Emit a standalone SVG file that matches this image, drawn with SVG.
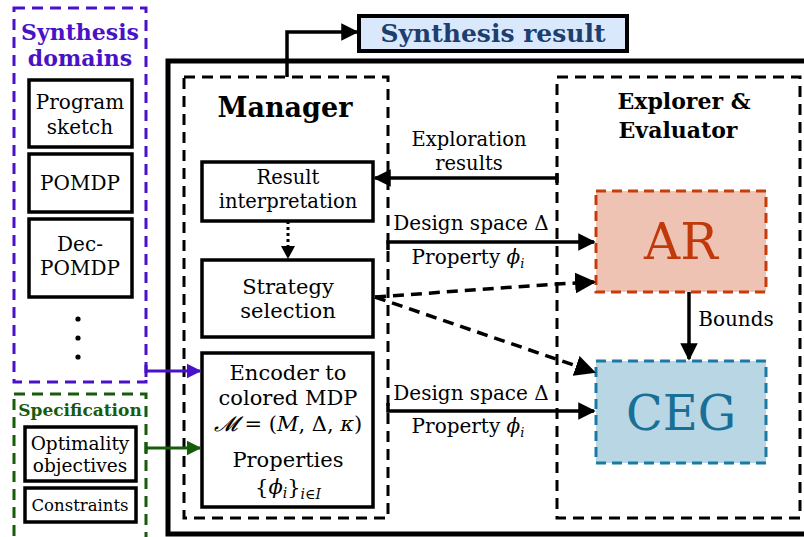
<svg xmlns="http://www.w3.org/2000/svg" width="804" height="537" viewBox="0 0 804 537" font-family="'DejaVu Serif', 'Liberation Serif', serif">
<defs>
<style>
text{font-family:'DejaVu Serif','Liberation Serif','Times New Roman',serif;fill:#000;text-anchor:middle}
.b{font-weight:bold}
.box{fill:#fff;stroke:#000;stroke-width:3.5}
.dash{fill:none;stroke:#000;stroke-width:3;stroke-dasharray:11 7}
.conn{fill:none;stroke:#000;stroke-width:3.5}
</style>
<marker id="ah" viewBox="0 0 10 10" refX="9" refY="5" markerWidth="5" markerHeight="5" markerUnits="strokeWidth" orient="auto"><path d="M0,0 L10,5 L0,10 z" fill="#000"/></marker>
<marker id="ahs" viewBox="0 0 10 10" refX="9" refY="5" markerWidth="6" markerHeight="6" markerUnits="strokeWidth" orient="auto"><path d="M0,0 L10,5 L0,10 z" fill="#000"/></marker>
<marker id="ahp" viewBox="0 0 10 10" refX="9" refY="5" markerWidth="5" markerHeight="5" markerUnits="strokeWidth" orient="auto"><path d="M0,0 L10,5 L0,10 z" fill="#4a12c8"/></marker>
<marker id="ahg" viewBox="0 0 10 10" refX="9" refY="5" markerWidth="5" markerHeight="5" markerUnits="strokeWidth" orient="auto"><path d="M0,0 L10,5 L0,10 z" fill="#175c0b"/></marker>
</defs>

<!-- outer frame -->
<rect x="168" y="61" width="660" height="473" fill="none" stroke="#000" stroke-width="5"/>

<g id="synthesis-domains">
<rect x="14" y="8" width="132" height="374" fill="none" stroke="#4a12c8" stroke-width="3" stroke-dasharray="11 7"/>
<text x="80" y="40" class="b" font-size="22" style="fill:#4a12c8">Synthesis</text>
<text x="80" y="66" class="b" font-size="22" style="fill:#4a12c8">domains</text>
</g>
<g id="program-sketch">
<rect x="29" y="80" width="103" height="67" class="box"/>
<text x="80" y="109" font-size="20">Program</text>
<text x="80" y="134" font-size="20">sketch</text>
</g>
<g id="pomdp">
<rect x="29" y="154" width="103" height="58" class="box"/>
<text x="80" y="190" font-size="20">POMDP</text>
</g>
<g id="dec-pomdp">
<rect x="29" y="219" width="103" height="78" class="box"/>
<text x="80" y="251" font-size="20">Dec-</text>
<text x="80" y="275" font-size="20">POMDP</text>
</g>
<g id="dots">
<circle cx="78" cy="319" r="2.6" fill="#000"/>
<circle cx="78" cy="338" r="2.6" fill="#000"/>
<circle cx="78" cy="357" r="2.6" fill="#000"/>
</g>

<g id="specification">
<rect x="14" y="394" width="132" height="146" fill="none" stroke="#175c0b" stroke-width="3" stroke-dasharray="11 7"/>
<text x="80" y="416" class="b" font-size="17" style="fill:#175c0b">Specification</text>
</g>
<g id="optimality">
<rect x="25" y="427" width="111" height="54" class="box"/>
<text x="80" y="450" font-size="18.5">Optimality</text>
<text x="80" y="472" font-size="18.5">objectives</text>
</g>
<g id="constraints">
<rect x="25" y="488" width="111" height="34" class="box"/>
<text x="80" y="511" font-size="16.5">Constraints</text>
</g>

<g id="manager">
<rect x="184" y="77" width="204" height="441" class="dash"/>
<text x="285" y="117" class="b" font-size="27">Manager</text>
</g>
<g id="result-interpretation">
<rect x="202" y="162" width="171" height="59" class="box"/>
<text x="288" y="184" font-size="19.5">Result</text>
<text x="288" y="208" font-size="19.5">interpretation</text>
</g>
<g id="strategy-selection">
<rect x="202" y="260" width="171" height="77" class="box"/>
<text x="288" y="294" font-size="21">Strategy</text>
<text x="288" y="318" font-size="21">selection</text>
</g>
<g id="encoder">
<rect x="202" y="353" width="171" height="154" class="box"/>
<text x="288" y="380" font-size="21">Encoder to</text>
<text x="288" y="405" font-size="21">colored MDP</text>
<text x="288" y="431" font-size="21"><tspan font-style="italic">𝓜</tspan> = (<tspan font-style="italic">M</tspan>, Δ, <tspan font-style="italic">κ</tspan>)</text>
<text x="288" y="467" font-size="21">Properties</text>
<text x="288" y="494" font-size="21">{<tspan font-style="italic">ϕ</tspan><tspan font-size="14" font-style="italic" dy="4">i</tspan><tspan dy="-4">}</tspan><tspan font-size="14" font-style="italic" dy="5">i</tspan><tspan font-size="14">∈</tspan><tspan font-size="14" font-style="italic">I</tspan></text>
</g>

<g id="explorer">
<rect x="557" y="77" width="243" height="441" class="dash"/>
<text x="684" y="109" class="b" font-size="22">Explorer &amp;</text>
<text x="678" y="138" class="b" font-size="22">Evaluator</text>
</g>
<g id="ar">
<rect x="596" y="191" width="170" height="101" fill="#efc3b3" stroke="#c83c0a" stroke-width="3" stroke-dasharray="10 6"/>
<text x="681" y="259" font-size="50" style="fill:#c0390b">AR</text>
</g>
<g id="ceg">
<rect x="596" y="361" width="170" height="102" fill="#b8d6e4" stroke="#1a7aa0" stroke-width="3" stroke-dasharray="10 6"/>
<text x="681" y="430" font-size="48" style="fill:#1a6f96">CEG</text>
</g>

<g id="synthesis-result">
<rect x="359" y="16" width="268" height="35" fill="#dae8fc" stroke="#000" stroke-width="4"/>
<text x="493" y="42" class="b" font-size="25" style="fill:#1c3f70">Synthesis result</text>
</g>

<g id="connectors">
<path d="M287,77 V32 H357" class="conn" stroke-width="5" marker-end="url(#ah)"/>
<path d="M146,371 H200" fill="none" stroke="#4a12c8" stroke-width="3" marker-end="url(#ahp)"/>
<path d="M146,365 V377" fill="none" stroke="#4a12c8" stroke-width="3"/>
<path d="M146,448 H200" fill="none" stroke="#175c0b" stroke-width="3" marker-end="url(#ahg)"/>
<path d="M146,442 V454" fill="none" stroke="#175c0b" stroke-width="3"/>
<path d="M557,178 H375" class="conn" marker-end="url(#ah)"/>
<path d="M557,173 V183" class="conn" stroke-width="3"/>
<text x="469" y="146" font-size="19.5">Exploration</text>
<text x="469" y="170" font-size="19.5">results</text>
<path d="M288,221 V257" fill="none" stroke="#000" stroke-width="3" stroke-dasharray="3 3"/>
<path d="M281,246 L288,259 L295,246 z" fill="#000"/>
<path d="M388,250 V242 H594" class="conn" stroke-width="3" marker-end="url(#ah)"/>
<text x="471" y="230" font-size="20">Design space Δ</text>
<text x="468" y="264" font-size="20">Property <tspan font-style="italic">ϕ</tspan><tspan font-style="italic" font-size="13" dy="4">i</tspan></text>
<path d="M375,297 L557,284 L594,282" class="conn" stroke-width="3" stroke-dasharray="11 7" marker-end="url(#ahs)"/>
<path d="M375,297 L594,372" class="conn" stroke-width="3" stroke-dasharray="11 7" marker-end="url(#ahs)"/>
<path d="M689,292 V359" class="conn" stroke-width="3" marker-end="url(#ah)"/>
<text x="736" y="326" font-size="20">Bounds</text>
<path d="M388,403 V411 H594" class="conn" stroke-width="3" marker-end="url(#ah)"/>
<text x="471" y="400" font-size="20">Design space Δ</text>
<text x="468" y="433" font-size="20">Property <tspan font-style="italic">ϕ</tspan><tspan font-style="italic" font-size="13" dy="4">i</tspan></text>
</g>
</svg>
